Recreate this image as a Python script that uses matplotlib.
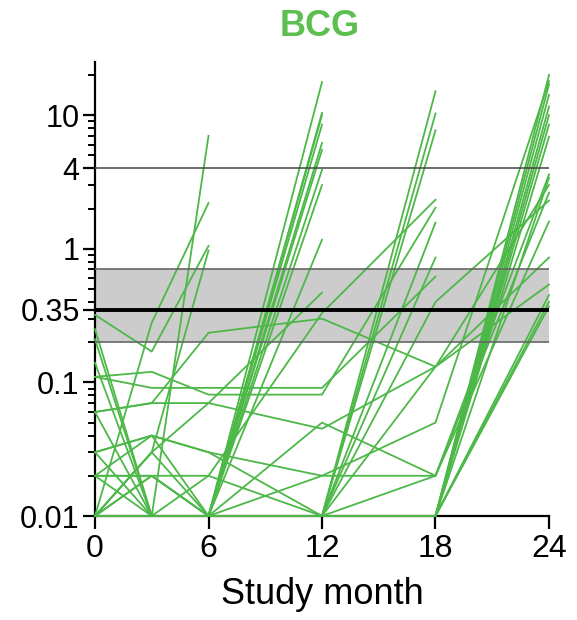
import numpy as np
import matplotlib
matplotlib.use("Agg")
import matplotlib.pyplot as plt
from matplotlib.ticker import FixedLocator, NullFormatter

plt.rcParams['font.family'] = ['Liberation Sans', 'DejaVu Sans']

N = np.nan
months = [0, 3, 6, 12, 18, 24]

# subjects converting at month 6
conv_m6 = [
    [0.01, 0.01, 7.0],
    [0.01, 0.28, 2.2],
    [0.32, 0.17, 1.05],
    [0.01, 0.03, 0.97],
]
# subjects converting at month 12
conv_m12 = [
    [0.01, 0.01, 0.01, 17.7],
    [0.21, 0.01, 0.01, 10.4],
    [0.14, 0.01, 0.01, 10.0],
    [0.01, 0.03, 0.01, 8.5],
    [0.06, 0.01, 0.01, 6.2],
    [0.01, 0.02, 0.01, 5.5],
    [0.02, 0.04, 0.01, 3.9],
    [0.01, 0.01, 0.01, 3.0],
    [0.03, 0.01, 0.01, 1.17],
    [0.06, 0.07, 0.07, 0.47],
]
# subjects converting at month 18
conv_m18 = [
    [0.01, 0.01, 0.01, 0.01, 15.1],
    [0.01, 0.01, 0.02, 0.01, 10.3],
    [0.03, 0.04, 0.03, 0.01, 7.7],
    [0.11, 0.12, 0.081, 0.081, 2.03],
    [0.11, 0.091, 0.091, 0.091, 0.62],
    [0.01, 0.01, 0.01, 0.01, 1.57],
    [0.01, 0.01, 0.01, 0.01, 0.86],
    [0.01, 0.02, 0.02, 0.33, 2.33],
]
# subjects followed to month 24
conv_m24 = [
    [0.01, 0.01, 0.01, 0.01, 0.01, 20.0],
    [0.01, 0.01, 0.01, 0.01, 0.01, 17.0],
    [0.25, 0.01, 0.01, 0.01, 0.01, 14.2],
    [0.01, 0.01, 0.01, 0.01, 0.01, 11.6],
    [0.01, 0.01, 0.01, 0.01, 0.01, 10.0],
    [0.01, 0.01, 0.01, 0.01, 0.01, 8.5],
    [0.01, 0.01, 0.01, 0.01, 0.01, 6.9],
    [0.02, 0.02, 0.01, 0.01, 0.01, 3.4],
    [0.03, 0.04, 0.03, 0.02, 0.05, 18.0],
    [0.02, 0.02, 0.01, 0.01, 0.02, 3.6],
    [0.01, 0.03, 0.07, 0.045, 0.131, 0.54],
    [0.06, 0.07, 0.235, 0.30, 0.131, 0.86],
    [0.01, 0.01, 0.01, 0.05, 0.02, 2.63],
    [0.01, 0.01, 0.01, 0.01, 0.40, 2.3],
    [0.01, 0.01, 0.01, 0.01, 0.01, 0.45],
    [0.02, 0.01, 0.01, 0.01, 0.01, 0.37],
    [0.01, 0.01, 0.01, 0.01, 0.01, 0.40],
    [0.01, 0.01, 0.01, 0.02, 0.02, 1.6],
    [0.01, 0.01, 0.01, 0.01, 0.131, 3.0],
]

band_low, band_mid, band_high = 0.2, 0.35, 0.7
upper_ref = 4
ytick_vals = [0.01, 0.1, 0.35, 1, 4, 10]
ytick_labels = ['0.01', '0.1', '0.35', '1', '4', '10']
xtick_vals = [0, 6, 12, 18, 24]

green = '#4DB848'

fig = plt.figure(figsize=(5.77, 6.2), dpi=100)
ax = fig.add_axes([95/577, 1-516/620, (549-95)/577, (516-62)/620])

ax.set_yscale('log')
ax.set_xlim(0, 24)
ax.set_ylim(0.01, 25)

ax.axhspan(band_low, band_high, color='#CCCCCC', zorder=0, lw=0)
ax.axhline(band_low, color='#666666', lw=1.2, zorder=3)
ax.axhline(band_high, color='#666666', lw=1.2, zorder=3)
ax.axhline(band_mid, color='black', lw=2.8, zorder=4)
ax.axhline(upper_ref, color='#444444', lw=1.1, zorder=3)

for group in (conv_m6, conv_m12, conv_m18, conv_m24):
    for row in group:
        vals = list(row) + [N] * (len(months) - len(row))
        ax.plot(months, vals, color=green, lw=1.3, zorder=2, clip_on=False)

for s in ('top', 'right'):
    ax.spines[s].set_visible(False)
for s in ('left', 'bottom'):
    ax.spines[s].set_linewidth(1.6)
    ax.spines[s].set_zorder(1)

ax.yaxis.set_major_locator(FixedLocator(ytick_vals))
ax.set_yticklabels(ytick_labels)
minors = []
for d in [0.01, 0.1, 1, 10]:
    for k in range(2, 10):
        v = d * k
        if v <= 25 and not any(abs(v - t) < 1e-9 for t in ytick_vals):
            minors.append(v)
ax.yaxis.set_minor_locator(FixedLocator(minors))
ax.yaxis.set_minor_formatter(NullFormatter())
ax.set_xticks(xtick_vals)
ax.set_xticklabels([str(v) for v in xtick_vals])
ax.tick_params(axis='both', which='major', length=9, width=1.6, labelsize=22, pad=2, color='black')
ax.tick_params(axis='x', which='major', labelsize=23, pad=4)
ax.tick_params(axis='y', which='minor', length=5, width=1.4)

ax.set_xlabel('Study month', fontsize=26, labelpad=9)
fig.text(320/577, 1-27/620, 'BCG', color='#5CBF4F', fontsize=26, fontweight='bold',
         ha='center', va='center')

fig.savefig('out.png', dpi=100)
